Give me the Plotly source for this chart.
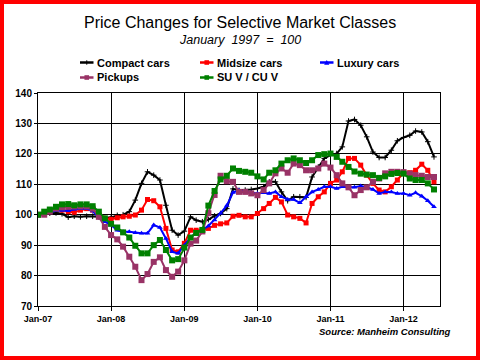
import plotly.graph_objects as go
import pandas as pd

# ---------------- data ----------------
months = pd.date_range("2007-01-01", periods=66, freq="MS")

compact = [100, 100.2, 100.5, 100.6, 100.3, 99.2, 99.5, 99.3, 99.5, 99.5, 99.3, 98.8,
           99.2, 99.8, 100, 101, 104.8, 110.3, 114.1, 113, 111.4, 103.1, 94.9, 93.3,
           94.6, 99.3, 98.2, 97.7, 98.4, 99.6, 100.4, 102, 108.5, 108, 108.1, 108.3,
           108.6, 109.2, 110.8, 110.8, 107.5, 104.6, 105.9, 105.9, 105.7, 112.4, 115.7, 118.5,
           119.6, 120.1, 122.3, 130.8, 131.3, 129.4, 125.6, 120.6, 118.8, 118.8, 121.2, 124.3,
           125.4, 126.1, 127.5, 127.2, 124, 119]

midsize = [100, 100.4, 101.3, 101.8, 101.5, 101, 100.8, 101.5, 102, 101.5, 100, 98.8,
           98.5, 99, 99.3, 99.5, 99.9, 101.5, 105, 104.6, 102.6, 95.5, 88.4, 87.8,
           90.6, 94.9, 94.9, 94.9, 95.5, 96.5, 97, 97.3, 99.5, 99.8, 99.3, 99.3,
           100.4, 102, 103.7, 105.7, 104.2, 99.9, 99.3, 98.8, 97.3, 103.7, 105.9, 107.5,
           110.3, 111.4, 114.1, 118.5, 118.5, 116.3, 113, 110.3, 108.1, 107.5, 109.2, 111.4,
           113.8, 113.8, 114.6, 116.6, 114.6, 110.8]

luxury = [100, 100.2, 100.8, 101.3, 101.5, 101.3, 101.8, 102, 102, 101.2, 99, 97.7,
          96.6, 94.9, 94.4, 94.4, 94.1, 93.9, 93.9, 96.6, 95.8, 92.2, 87.8, 87.3,
          90, 92.5, 94, 95, 96.3, 98.3, 100.5, 103, 107.3, 108, 107.5, 107.2,
          107, 107.2, 107, 107.5, 105.9, 105, 105, 103.9, 105.9, 107.5, 108.3, 109.2,
          109.2, 108.6, 109.2, 109, 109, 109.4, 109, 108.3, 107, 107.5, 107.5, 107,
          107, 106.4, 107.2, 106.1, 104.6, 102.6]

pickups = [100, 100, 101, 102, 102.4, 102.6, 102.7, 102.7, 102.7, 102, 99.3, 96,
           93.3, 91.9, 89.5, 86.2, 82.9, 78.5, 80.5, 84.5, 86, 81.8, 79.6, 81.3,
           85, 90.5, 91.5, 94.5, 100.5, 106.5, 112.8, 111, 110.8, 107.5, 107.5, 107,
           106.4, 108.1, 110.3, 113.6, 115.2, 113.8, 116.8, 116.3, 114.6, 114.6, 115.2, 116.8,
           115.5, 113, 110.3, 109, 106.4, 108.1, 109, 110.8, 111.9, 113.6, 114.1, 114.1,
           114, 113.5, 113, 112.8, 112.4, 112.4]

suv = [100, 101, 101.7, 102.6, 103.4, 103.5, 103.1, 103.4, 103.4, 102.8, 101, 98.8,
       97, 95.8, 94.2, 92.5, 89.8, 87.3, 87.3, 90, 91.7, 88.4, 85, 85.4,
       89.2, 92.5, 94, 95, 103, 107.8, 111.6, 112.8, 115.2, 114.4, 114.1, 113.8,
       112.6, 111.6, 113.8, 114.6, 116.8, 117.9, 118.5, 117.9, 117, 117.9, 119.6, 119.9,
       120.1, 119, 117.4, 115.7, 114.2, 113.5, 113.2, 113, 112.1, 112.6, 113.4, 113.7,
       113.5, 111.9, 111.4, 111.4, 110.3, 108.3]

series_names = ["Compact cars", "Midsize cars", "Luxury cars", "Pickups", "SU V / CU V"]
series_values = [compact, midsize, luxury, pickups, suv]
series_colors = ["#000000", "#FF0000", "#0000FF", "#993366", "#008000"]
series_symbols = ["cross-thin", "square", "triangle-up", "square", "square"]
series_msizes = [4, 5, 5, 6, 6]

# ---------------- layout geometry ----------------
W, H = 480, 360
ML, MR, MT, MB = 38, 40, 93, 54
PW, PH = W - ML - MR, H - MT - MB
FONT = "Liberation Sans, Arial, sans-serif"


def px(x):
    return (x - ML) / PW


def py(y):
    return (H - MB - y) / PH


fig = go.Figure()
for name, vals, col, sym, ms in zip(series_names, series_values, series_colors,
                                     series_symbols, series_msizes):
    marker = dict(symbol=sym, size=ms, color=col)
    if sym == "cross-thin":
        marker["line"] = dict(color=col, width=1)
    fig.add_trace(go.Scatter(x=months, y=vals, name=name, mode="lines+markers",
                             line=dict(color=col, width=2), marker=marker,
                             showlegend=False))

shapes = []
annotations = []

# outer red border
shapes.append(dict(type="rect", xref="paper", yref="paper",
                   x0=px(2), x1=px(478), y0=py(358), y1=py(2),
                   line=dict(color="#FF0000", width=4), layer="above"))

# titles
annotations.append(dict(text="Price Changes for Selective Market Classes",
                        xref="paper", yref="paper", x=px(240), y=py(23),
                        xanchor="center", yanchor="middle", showarrow=False,
                        font=dict(family=FONT, size=16, color="#000000")))
annotations.append(dict(text="<i>January  1997  =  100</i>",
                        xref="paper", yref="paper", x=px(240), y=py(39.5),
                        xanchor="center", yanchor="middle", showarrow=False,
                        font=dict(family=FONT, size=12.5, color="#000000")))

# manual legend
legend_pos = [(80, 62.5), (200, 62.5), (320, 62.5), (80, 77.5), (200, 77.5)]
for (lx, ly), name, col, sym in zip(legend_pos, series_names, series_colors, series_symbols):
    shapes.append(dict(type="line", xref="paper", yref="paper",
                       x0=px(lx), x1=px(lx + 13.5), y0=py(ly), y1=py(ly),
                       line=dict(color=col, width=2.5)))
    cx = lx + 6.75
    if sym == "square":
        shapes.append(dict(type="rect", xref="paper", yref="paper",
                           x0=px(cx - 2.3), x1=px(cx + 2.3), y0=py(ly + 2.3), y1=py(ly - 2.3),
                           fillcolor=col, line=dict(width=0)))
    elif sym == "triangle-up":
        path = "M {:.5f},{:.5f} L {:.5f},{:.5f} L {:.5f},{:.5f} Z".format(
            px(cx - 2.6), py(ly + 2.2), px(cx + 2.6), py(ly + 2.2), px(cx), py(ly - 2.6))
        shapes.append(dict(type="path", xref="paper", yref="paper", path=path,
                           fillcolor=col, line=dict(width=0)))
    else:
        shapes.append(dict(type="line", xref="paper", yref="paper",
                           x0=px(cx), x1=px(cx), y0=py(ly - 2.2), y1=py(ly + 2.2),
                           line=dict(color=col, width=1)))
    annotations.append(dict(text="<b>" + name + "</b>", xref="paper", yref="paper",
                            x=px(lx + 15), y=py(ly), xanchor="left", yanchor="middle",
                            showarrow=False,
                            font=dict(family=FONT, size=11, color="#000000")))

# source note
annotations.append(dict(text="<b><i>Source: Manheim Consulting</i></b>",
                        xref="paper", yref="paper", x=px(453), y=py(331.5),
                        xanchor="right", yanchor="middle", showarrow=False,
                        font=dict(family=FONT, size=9.5, color="#000000")))

fig.update_layout(
    width=W, height=H,
    margin=dict(l=ML, r=MR, t=MT, b=MB, pad=0, autoexpand=False),
    paper_bgcolor="#FFFFFF", plot_bgcolor="#FFFFFF",
    font=dict(family=FONT, color="#000000"),
    shapes=shapes, annotations=annotations,
    showlegend=False,
    xaxis=dict(type="date", range=["2007-01-01", "2012-07-01"],
               tick0="2007-01-01", dtick="M12", tickformat="%b-%y",
               showgrid=True, gridcolor="#000000", gridwidth=1,
               showline=True, linecolor="#000000", linewidth=1, mirror=True,
               ticks="outside", ticklen=4, tickcolor="#000000",
               tickfont=dict(family=FONT, size=9, color="#000000"),
               zeroline=False, fixedrange=True, automargin=False),
    yaxis=dict(range=[70, 140], tick0=70, dtick=10,
               showgrid=True, gridcolor="#000000", gridwidth=1,
               showline=True, linecolor="#000000", linewidth=1, mirror=True,
               ticks="outside", ticklen=3, tickcolor="#000000",
               tickfont=dict(family=FONT, size=10, color="#000000"),
               zeroline=False, fixedrange=True, automargin=False),
)

fig.update_xaxes(tickprefix="<b>", ticksuffix="</b>")
fig.update_yaxes(tickprefix="<b>", ticksuffix="</b>")

fig.write_html("out.html", config={"displayModeBar": False},
               post_script="document.body.style.margin='0px';document.body.style.overflow='hidden';")
